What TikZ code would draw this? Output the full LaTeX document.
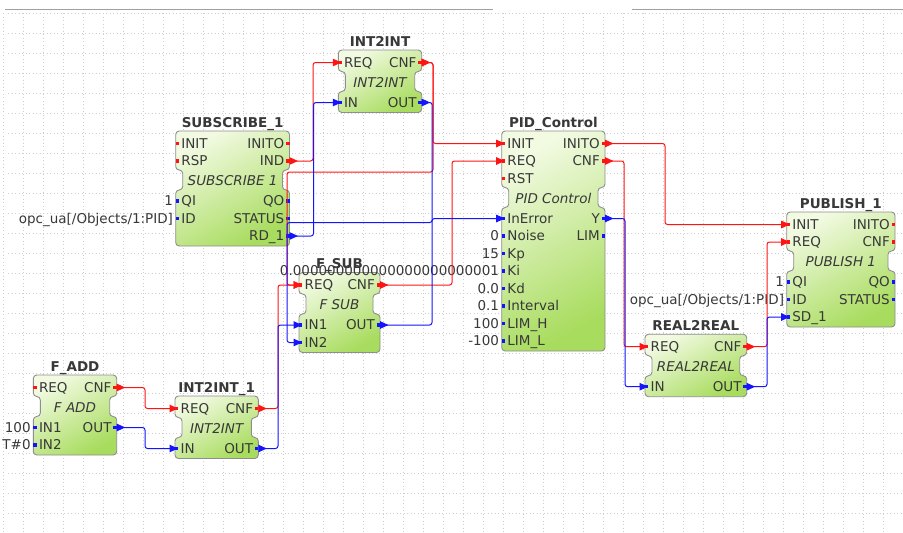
\documentclass[tikz,border=0pt]{standalone}
\usepackage{fontspec}
\setmainfont{DejaVu Sans}
\usetikzlibrary{arrows.meta,calc,positioning}
\definecolor{evred}{HTML}{FF1414}
\definecolor{datablue}{HTML}{1414FF}
\definecolor{fbtop}{HTML}{F2FAE2}
\definecolor{fbbottom}{HTML}{A8DC5E}
\definecolor{fbborder}{HTML}{8E8E8E}
\definecolor{fbtext}{HTML}{383838}
\definecolor{gridgray}{HTML}{CFCFCF}
\definecolor{rulegray}{HTML}{A0A0A0}

% function block body: id, left, right, top, event rows, data rows, title, type
\newcommand{\fbblock}[8]{%
  \pgfmathsetmacro\fbeb{#4+21.5+(#5-1)*17.5}%
  \pgfmathsetmacro\fbnb{\fbeb+20}%
  \pgfmathsetmacro\fbbot{\fbnb+21+(#6-1)*17.5}%
  \path[fbshape] ({(#2+#3)/2},#4) -- (#3,#4) -- (#3,\fbeb) -- (#3-7,\fbeb)
    -- (#3-7,\fbnb) -- (#3,\fbnb) -- (#3,\fbbot) -- (#2,\fbbot) -- (#2,\fbnb)
    -- (#2+7,\fbnb) -- (#2+7,\fbeb) -- (#2,\fbeb) -- (#2,#4) -- cycle;
  \node[fbtitle, anchor=base] (#1) at ({(#2+#3)/2},#4-4) {#7};
  \node[fbtype, anchor=base] (#1-type) at ({(#2+#3)/2},\fbeb+15.5) {#8};
}
% pins: colour, name, x of box edge, y, label
\newcommand{\pinin}[5]{%
  \fill[#1] (#3,#4-1.7) rectangle (#3+3.4,#4+1.7);
  \coordinate (#2) at (#3+3,#4);
  \node[pinlabel, anchor=base west] (#2-txt) at (#3+5.5,#4+4.6) {#5};
}
\newcommand{\pinout}[5]{%
  \fill[#1] (#3-3.4,#4-1.7) rectangle (#3,#4+1.7);
  \coordinate (#2) at (#3,#4);
  \node[pinlabel, anchor=base east] (#2-txt) at (#3-5,#4+4.6) {#5};
}
\newcommand{\pinval}[3]{%
  \node[pinlabel, anchor=base east] (#1) at ([xshift=-5.5pt,yshift=-4.6pt]#2) {#3};
}

\begin{document}
\begin{tikzpicture}[
    x=1pt, y=-1pt,
    every node/.style={text=fbtext, inner sep=0pt},
    fbshape/.style={draw=fbborder, line width=0.9pt, top color=fbtop,
      bottom color=fbbottom, shading angle=30, rounded corners=3.5pt},
    fbtitle/.style={font=\fontsize{13.5}{15}\selectfont\bfseries},
    fbtype/.style={font=\fontsize{13.5}{15}\selectfont\itshape},
    pinlabel/.style={font=\fontsize{13.5}{15}\selectfont},
    evwire/.style={draw=evred, line width=1pt, rounded corners=2.5pt,
      {Triangle[reversed,length=8.5pt,width=7.5pt]}-{Triangle[length=8.5pt,width=7.5pt]}},
    datawire/.style={evwire, draw=datablue},
    gridline/.style={gridgray, line width=0.5pt, dash pattern=on 1pt off 2.5pt}
  ]
  \fill[white] (0,0) rectangle (903,533);
  \useasboundingbox (0,0) rectangle (903,533);

  % editor grid
  \foreach \gx in {3,23,...,903}
    \draw[gridline] (\gx,13) -- (\gx,533);
  \foreach \gy in {13,33,...,533}
    \draw[gridline] (8,\gy) -- (903,\gy);
  \draw[rulegray, line width=1.2pt] (5,9.3) -- (492.5,9.3);
  \draw[rulegray, line width=1.2pt] (632,9.3) -- (903,9.3);

  % INT2INT
  \fbblock{INT}{338.3}{421.7}{50}{1}{1}{INT2INT}{INT2INT}
  \pinin{evred}{INT-REQ}{338.3}{62.5}{REQ}
  \pinout{evred}{INT-CNF}{421.7}{62.5}{CNF}
  \pinin{datablue}{INT-IN}{338.3}{102.5}{IN}
  \pinout{datablue}{INT-OUT}{421.7}{102.5}{OUT}

  % SUBSCRIBE_1
  \fbblock{SUB}{175.7}{289.5}{131}{2}{3}{SUBSCRIBE\_1}{SUBSCRIBE 1}
  \pinin{evred}{SUB-INIT}{175.7}{143.5}{INIT}
  \pinin{evred}{SUB-RSP}{175.7}{161}{RSP}
  \pinout{evred}{SUB-INITO}{289.5}{143.5}{INITO}
  \pinout{evred}{SUB-IND}{289.5}{161}{IND}
  \pinin{datablue}{SUB-QI}{175.7}{201}{QI}
  \pinin{datablue}{SUB-ID}{175.7}{218.5}{ID}
  \pinout{datablue}{SUB-QO}{289.5}{201}{QO}
  \pinout{datablue}{SUB-STATUS}{289.5}{218.5}{STATUS}
  \pinout{datablue}{SUB-RD}{289.5}{236}{RD\_1}
  \pinval{SUB-QI-val}{SUB-QI}{1}
  \pinval{SUB-ID-val}{SUB-ID}{opc\_ua[/Objects/1:PID]}

  % F_SUB
  \fbblock{FSUB}{299}{380}{272.5}{1}{2}{F\_SUB}{F SUB}
  \pinin{evred}{FSUB-REQ}{299}{285}{REQ}
  \pinout{evred}{FSUB-CNF}{380}{285}{CNF}
  \pinin{datablue}{FSUB-IN1}{299}{325}{IN1}
  \pinin{datablue}{FSUB-IN2}{299}{342.5}{IN2}
  \pinout{datablue}{FSUB-OUT}{380}{325}{OUT}

  % PID_Control
  \fbblock{PID}{501.7}{605}{131}{3}{8}{PID\_Control}{PID Control}
  \pinin{evred}{PID-INIT}{501.7}{143.5}{INIT}
  \pinin{evred}{PID-REQ}{501.7}{161}{REQ}
  \pinin{evred}{PID-RST}{501.7}{178.5}{RST}
  \pinout{evred}{PID-INITO}{605}{143.5}{INITO}
  \pinout{evred}{PID-CNF}{605}{161}{CNF}
  \pinin{datablue}{PID-InError}{501.7}{218.5}{InError}
  \pinin{datablue}{PID-Noise}{501.7}{236}{Noise}
  \pinin{datablue}{PID-Kp}{501.7}{253.5}{Kp}
  \pinin{datablue}{PID-Ki}{501.7}{271}{Ki}
  \pinin{datablue}{PID-Kd}{501.7}{288.5}{Kd}
  \pinin{datablue}{PID-Interval}{501.7}{306}{Interval}
  \pinin{datablue}{PID-LIMH}{501.7}{323.5}{LIM\_H}
  \pinin{datablue}{PID-LIML}{501.7}{341}{LIM\_L}
  \pinout{datablue}{PID-Y}{605}{218.5}{Y}
  \pinout{datablue}{PID-LIM}{605}{236}{LIM}
  \pinval{PID-Noise-val}{PID-Noise}{0}
  \pinval{PID-Kp-val}{PID-Kp}{15}
  \pinval{PID-Ki-val}{PID-Ki}{0.000000000000000000000001}
  \pinval{PID-Kd-val}{PID-Kd}{0.0}
  \pinval{PID-Interval-val}{PID-Interval}{0.1}
  \pinval{PID-LIMH-val}{PID-LIMH}{100}
  \pinval{PID-LIML-val}{PID-LIML}{-100}

  % PUBLISH_1
  \fbblock{PUB}{786.7}{895}{212}{2}{3}{PUBLISH\_1}{PUBLISH 1}
  \pinin{evred}{PUB-INIT}{786.7}{224.5}{INIT}
  \pinin{evred}{PUB-REQ}{786.7}{242}{REQ}
  \pinout{evred}{PUB-INITO}{895}{224.5}{INITO}
  \pinout{evred}{PUB-CNF}{895}{242}{CNF}
  \pinin{datablue}{PUB-QI}{786.7}{282}{QI}
  \pinin{datablue}{PUB-ID}{786.7}{299.5}{ID}
  \pinin{datablue}{PUB-SD}{786.7}{317}{SD\_1}
  \pinout{datablue}{PUB-QO}{895}{282}{QO}
  \pinout{datablue}{PUB-STATUS}{895}{299.5}{STATUS}
  \pinval{PUB-QI-val}{PUB-QI}{1}
  \pinval{PUB-ID-val}{PUB-ID}{opc\_ua[/Objects/1:PID]}

  % REAL2REAL
  \fbblock{R2R}{645}{746.7}{334.2}{1}{1}{REAL2REAL}{REAL2REAL}
  \pinin{evred}{R2R-REQ}{645}{346.7}{REQ}
  \pinout{evred}{R2R-CNF}{746.7}{346.7}{CNF}
  \pinin{datablue}{R2R-IN}{645}{386.7}{IN}
  \pinout{datablue}{R2R-OUT}{746.7}{386.7}{OUT}

  % F_ADD
  \fbblock{FADD}{33.3}{116.7}{375}{1}{2}{F\_ADD}{F ADD}
  \pinin{evred}{FADD-REQ}{33.3}{387.5}{REQ}
  \pinout{evred}{FADD-CNF}{116.7}{387.5}{CNF}
  \pinin{datablue}{FADD-IN1}{33.3}{427.5}{IN1}
  \pinin{datablue}{FADD-IN2}{33.3}{445}{IN2}
  \pinout{datablue}{FADD-OUT}{116.7}{427.5}{OUT}
  \pinval{FADD-IN1-val}{FADD-IN1}{100}
  \pinval{FADD-IN2-val}{FADD-IN2}{T\#0}

  % INT2INT_1
  \fbblock{INT1}{175}{258.3}{396}{1}{1}{INT2INT\_1}{INT2INT}
  \pinin{evred}{INT1-REQ}{175}{408.5}{REQ}
  \pinout{evred}{INT1-CNF}{258.3}{408.5}{CNF}
  \pinin{datablue}{INT1-IN}{175}{448.5}{IN}
  \pinout{datablue}{INT1-OUT}{258.3}{448.5}{OUT}

  % event connections
  \draw[evwire] (SUB-IND) -- ++(23.5,0) |- (INT-REQ);
  \draw[evwire] (INT-CNF) -- ++(11.3,0) |- (PID-INIT);
  \draw[evwire] (INT-CNF) -- ++(11.3,0) -- ++(0,109.5) -| ([xshift=-15pt]FSUB-REQ) -- (FSUB-REQ);
  \draw[evwire] (FSUB-CNF) -- ++(72,0) |- (PID-REQ);
  \draw[evwire] (INT1-CNF) -- ++(19.7,0) |- (FSUB-REQ);
  \draw[evwire] (FADD-CNF) -- ++(28.3,0) |- (INT1-REQ);
  \draw[evwire] (PID-INITO) -- ++(60,0) |- (PUB-INIT);
  \draw[evwire] (PID-CNF) -- ++(19,0) |- (R2R-REQ);
  \draw[evwire] (R2R-CNF) -- ++(20.3,0) |- (PUB-REQ);

  % data connections
  \draw[datawire] (SUB-RD) -- ++(24,0) |- (INT-IN);
  \draw[datawire] (INT-OUT) -- ++(10.5,0) -- ++(0,120) -| ([xshift=-15pt]FSUB-IN2) -- (FSUB-IN2);
  \draw[datawire] (FSUB-OUT) -- ++(52,0) |- (PID-InError);
  \draw[datawire] (INT1-OUT) -- ++(19.7,0) |- (FSUB-IN1);
  \draw[datawire] (FADD-OUT) -- ++(28.3,0) |- (INT1-IN);
  \draw[datawire] (PID-Y) -- ++(20,0) |- (R2R-IN);
  \draw[datawire] (R2R-OUT) -- ++(20.3,0) |- (PUB-SD);
\end{tikzpicture}
\end{document}
